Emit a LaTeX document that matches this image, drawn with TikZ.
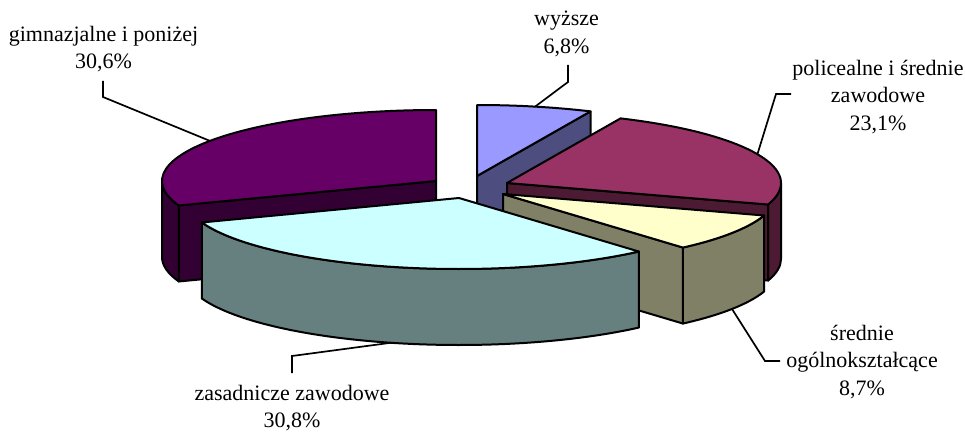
\documentclass[tikz,border=0pt]{standalone}
\usepackage{fontspec}
\setmainfont{Liberation Serif}
\usetikzlibrary{calc}
\definecolor{gimT}{HTML}{660066}
\definecolor{gimS}{HTML}{330033}
\definecolor{wyzT}{HTML}{9999FF}
\definecolor{wyzS}{HTML}{4D4D80}
\definecolor{polT}{HTML}{993366}
\definecolor{polS}{HTML}{4D1A33}
\definecolor{sreT}{HTML}{FFFFCC}
\definecolor{sreS}{HTML}{808066}
\definecolor{zasT}{HTML}{CCFFFF}
\definecolor{zasS}{HTML}{668080}
\tikzset{
  edge/.style={draw=black,line width=2pt,line join=round},
  lead/.style={draw=black,line width=1.7pt,line join=miter},
  lbl/.style={align=center,inner sep=0pt,font=\fontsize{22}{27.5}\selectfont}
}
\newcommand\pieside[4]{\filldraw[edge,fill=#4] ($(#1)+(#2:274 and 71)$) arc[start angle=#2,end angle=#3,x radius=274,y radius=71] -- ++(0,76) arc[start angle=#3,end angle=#2,x radius=274,y radius=71] -- cycle;}
\newcommand\pieradial[3]{\filldraw[edge,fill=#3] (#1) -- ($(#1)+(#2:274 and 71)$) -- ++(0,76) -- ($(#1)+(0,76)$) -- cycle;}
\newcommand\pietop[4]{\filldraw[edge,fill=#4] (#1) -- ($(#1)+(#2:274 and 71)$) arc[start angle=#2,end angle=#3,x radius=274,y radius=71] -- cycle;}
\begin{document}
\begin{tikzpicture}[x=1pt,y=-1pt]
\useasboundingbox (0,0) rectangle (965,433);
% slice centres
\coordinate (G) at (436,181);
\coordinate (W) at (477,176);
\coordinate (P) at (507,183);
\coordinate (S) at (503,194);
\coordinate (Z) at (459,198);
% gimnazjalne
\pieside{G}{159.84}{180}{gimS}
\pieradial{G}{159.84}{gimS}
\pietop{G}{159.84}{270}{gimT}
% wyzsze
\pieradial{W}{-65.52}{wyzS}
\pietop{W}{-90}{-65.52}{wyzT}
% policealne
\pieside{P}{0}{17.64}{polS}
\pieradial{P}{17.64}{polS}
\pietop{P}{-65.52}{17.64}{polT}
% srednie
\pieside{S}{17.64}{48.96}{sreS}
\pieradial{S}{48.96}{sreS}
\pietop{S}{17.64}{48.96}{sreT}
% zasadnicze
\pieside{Z}{48.96}{159.84}{zasS}
\pietop{Z}{48.96}{159.84}{zasT}
% leader end points on the pie
\coordinate (gE) at ($(G)+(214.4:274 and 71)$);
\coordinate (wE) at ($(W)+(-77.76:274 and 71)$);
\coordinate (pE) at ($(P)+(-23.94:274 and 71)$);
\coordinate (sE) at ($(S)+(33.3:274 and 71)+(0,76)$);
\coordinate (zE) at ($(Z)+(104.4:274 and 71)+(0,76)$);
% labels
\node[lbl] (gL) at (103.5,49) {gimnazjalne i poniżej\\30,6\%};
\node[lbl] (wL) at (566.5,34) {wyższe\\6,8\%};
\node[lbl] (pL) at (878,97) {policealne i średnie\\zawodowe\\23,1\%};
\node[lbl] (sL) at (862,362) {średnie\\ogólnokształcące\\8,7\%};
\node[lbl] (zL) at (292,408) {zasadnicze zawodowe\\30,8\%};
% leader bend points
\coordinate (g1) at (103,81);   \coordinate (g2) at (103,97);
\coordinate (w1) at (568,65);   \coordinate (w2) at (568,82);
\coordinate (p1) at (791,94);   \coordinate (p2) at (776,94);
\coordinate (s1) at (780,361);  \coordinate (s2) at (765,361);
\coordinate (z1) at (292,373);  \coordinate (z2) at (292,356);
\draw[lead] (g1) -- (g2) -- (gE);
\draw[lead] (w1) -- (w2) -- (wE);
\draw[lead] (p1) -- (p2) -- (pE);
\draw[lead] (s1) -- (s2) -- (sE);
\draw[lead] (z1) -- (z2) -- (zE);
\end{tikzpicture}
\end{document}
